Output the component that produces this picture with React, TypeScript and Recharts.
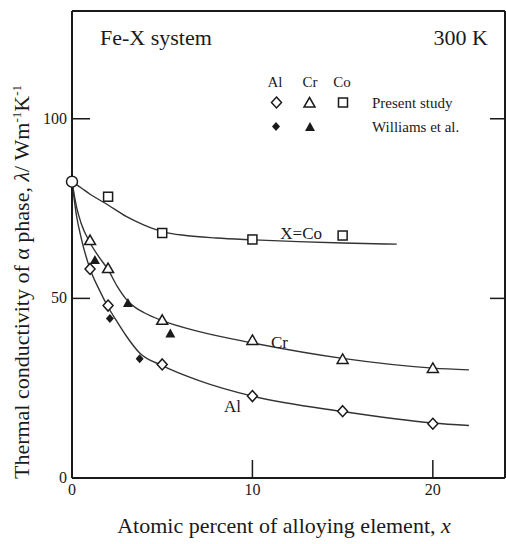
import { ComposedChart, Line, Scatter, XAxis, YAxis, ReferenceLine, ReferenceDot } from 'recharts';

const FONT = '"Liberation Serif", "Times New Roman", serif';
const INK = '#1a1a1a';
const CURVE = '#333333';

const W = 506;
const H = 544;
const PLOT_W = 433; // left axis at 72, right frame at 505

// fitted curves (x = at.% X, y = W/mK)
const coCurve = [
  { x: 0, y: 82.5 }, { x: 0.5, y: 80.8 }, { x: 1, y: 79 }, { x: 2, y: 76 },
  { x: 3, y: 72.8 }, { x: 4, y: 70.4 }, { x: 5, y: 68.6 }, { x: 6.3, y: 67.5 },
  { x: 8, y: 66.8 }, { x: 10, y: 66.3 }, { x: 15, y: 65.4 }, { x: 18, y: 65.1 },
];
const crCurve = [
  { x: 0, y: 82.5 }, { x: 0.25, y: 75.5 }, { x: 0.5, y: 71 }, { x: 1, y: 65.5 },
  { x: 1.5, y: 61.5 }, { x: 2, y: 58 }, { x: 2.5, y: 53.4 }, { x: 3, y: 49.8 },
  { x: 3.5, y: 47.5 }, { x: 4, y: 46 }, { x: 5, y: 43.8 }, { x: 7, y: 40.8 },
  { x: 10, y: 37.6 }, { x: 15, y: 33.3 }, { x: 20, y: 30.6 }, { x: 22, y: 30.1 },
];
const alCurve = [
  { x: 0, y: 82.5 }, { x: 0.25, y: 73 }, { x: 0.5, y: 67 }, { x: 1, y: 58.2 },
  { x: 1.5, y: 52.5 }, { x: 2, y: 47.6 }, { x: 2.5, y: 43.5 }, { x: 3, y: 39.6 },
  { x: 3.75, y: 34.8 }, { x: 5, y: 31.3 }, { x: 7, y: 27.2 }, { x: 10, y: 22.8 },
  { x: 15, y: 18.5 }, { x: 20, y: 15.3 }, { x: 22, y: 14.6 },
];

// measured points
const pureFe = [{ x: 0, y: 82.5 }];
const alPresent = [
  { x: 1, y: 58.2 }, { x: 2, y: 48 }, { x: 5, y: 31.6 },
  { x: 10, y: 22.8 }, { x: 15, y: 18.6 }, { x: 20, y: 15.1 },
];
const crPresent = [
  { x: 1, y: 66.1 }, { x: 2, y: 58.3 }, { x: 5, y: 43.9 },
  { x: 10, y: 38.3 }, { x: 15, y: 33 }, { x: 20, y: 30.5 },
];
const coPresent = [
  { x: 2, y: 78.3 }, { x: 5, y: 68.2 }, { x: 10, y: 66.4 }, { x: 15, y: 67.5 },
];
const alWilliams = [{ x: 2.1, y: 44.4 }, { x: 3.75, y: 33.2 }];
const crWilliams = [{ x: 1.27, y: 60.7 }, { x: 3.1, y: 48.7 }, { x: 5.45, y: 40.2 }];

const xTicks = [0, 10, 20];
const yTicks = [0, 50, 100];

const curveLabels = [
  { x: 12.7, y: 68.3, text: 'X=Co' },
  { x: 11.5, y: 38, text: 'Cr' },
  { x: 8.9, y: 20.1, text: 'Al' },
];

const openDiamond = (p: any) => (
  <polygon
    points={`${p.cx},${p.cy - 5.5} ${p.cx + 5},${p.cy} ${p.cx},${p.cy + 5.5} ${p.cx - 5},${p.cy}`}
    fill="#fff" stroke={INK} strokeWidth={1.5}
  />
);
const openTriangle = (p: any) => (
  <polygon
    points={`${p.cx},${p.cy - 5.5} ${p.cx + 5.5},${p.cy + 4} ${p.cx - 5.5},${p.cy + 4}`}
    fill="#fff" stroke={INK} strokeWidth={1.5}
  />
);
const openSquare = (p: any) => (
  <rect x={p.cx - 4.5} y={p.cy - 4.5} width={9} height={9} fill="#fff" stroke={INK} strokeWidth={1.5} />
);
const openCircle = (p: any) => (
  <circle cx={p.cx} cy={p.cy} r={5.5} fill="#fff" stroke={INK} strokeWidth={1.5} />
);
const filledDiamond = (p: any) => (
  <polygon
    points={`${p.cx},${p.cy - 4.5} ${p.cx + 4},${p.cy} ${p.cx},${p.cy + 4.5} ${p.cx - 4},${p.cy}`}
    fill={INK}
  />
);
const filledTriangle = (p: any) => (
  <polygon points={`${p.cx},${p.cy - 5} ${p.cx + 5},${p.cy + 4} ${p.cx - 5},${p.cy + 4}`} fill={INK} />
);

const YTick = ({ x, y, payload }: any) => (
  <g>
    <text x={x - 5} y={y + 5} textAnchor="end" fontSize={16} fontFamily={FONT} fill={INK}>
      {payload.value}
    </text>
    {payload.value !== 0 && (
      <>
        <line x1={x} x2={x + 18} y1={y} y2={y} stroke={INK} strokeWidth={1.5} />
        <line x1={x + PLOT_W - 15} x2={x + PLOT_W} y1={y} y2={y} stroke={INK} strokeWidth={1.5} />
      </>
    )}
  </g>
);

const XTick = ({ x, y, payload }: any) => (
  <g>
    <text x={x} y={y + 17} textAnchor="middle" fontSize={16} fontFamily={FONT} fill={INK}>
      {payload.value}
    </text>
    {payload.value !== 0 && <line x1={x} x2={x} y1={y} y2={y - 18} stroke={INK} strokeWidth={1.5} />}
  </g>
);

export default function App() {
  return (
    <div style={{ position: 'absolute', left: 0, top: 0, width: W, height: H, background: '#fff' }}>
      <ComposedChart width={W} height={H} margin={{ top: 11, right: 1, bottom: 36, left: 12 }}>
        <XAxis
          dataKey="x" type="number" domain={[0, 24]} ticks={xTicks} height={30}
          axisLine={{ stroke: INK, strokeWidth: 2 }} tickLine={false} tickSize={0} tickMargin={0}
          tick={<XTick />}
        />
        <YAxis
          dataKey="y" type="number" domain={[0, 130]} ticks={yTicks} width={60}
          axisLine={{ stroke: INK, strokeWidth: 2 }} tickLine={false} tickSize={0} tickMargin={0}
          tick={<YTick />}
        />
        <ReferenceLine y={130} stroke={INK} strokeWidth={2} />
        <ReferenceLine x={24} stroke={INK} strokeWidth={2} />

        <Line data={coCurve} dataKey="y" type="monotone" stroke={CURVE} strokeWidth={1.4} dot={false} isAnimationActive={false} />
        <Line data={crCurve} dataKey="y" type="monotone" stroke={CURVE} strokeWidth={1.4} dot={false} isAnimationActive={false} />
        <Line data={alCurve} dataKey="y" type="monotone" stroke={CURVE} strokeWidth={1.4} dot={false} isAnimationActive={false} />

        <Scatter data={coPresent} dataKey="y" shape={openSquare} isAnimationActive={false} />
        <Scatter data={crPresent} dataKey="y" shape={openTriangle} isAnimationActive={false} />
        <Scatter data={alPresent} dataKey="y" shape={openDiamond} isAnimationActive={false} />
        <Scatter data={crWilliams} dataKey="y" shape={filledTriangle} isAnimationActive={false} />
        <Scatter data={alWilliams} dataKey="y" shape={filledDiamond} isAnimationActive={false} />
        <Scatter data={pureFe} dataKey="y" shape={openCircle} isAnimationActive={false} />

        {curveLabels.map((c) => (
          <ReferenceDot
            key={c.text} x={c.x} y={c.y} r={0} fill="none" stroke="none"
            label={{ value: c.text, position: 'center', fill: INK, fontSize: 17, fontFamily: FONT }}
          />
        ))}
      </ComposedChart>

      <svg width={W} height={H} style={{ position: 'absolute', left: 0, top: 0, pointerEvents: 'none' }}>
        <g fontFamily={FONT} fill={INK}>
          <text x={100} y={45} fontSize={22}>Fe-X system</text>
          <text x={488} y={45} fontSize={22} textAnchor="end">300 K</text>

          <text x={275} y={87} fontSize={15} textAnchor="middle">Al</text>
          <text x={310} y={87} fontSize={15} textAnchor="middle">Cr</text>
          <text x={342} y={87} fontSize={15} textAnchor="middle">Co</text>
          {openDiamond({ cx: 276.5, cy: 102.5 })}
          {openTriangle({ cx: 309.5, cy: 103 })}
          {openSquare({ cx: 343, cy: 102.5 })}
          {filledDiamond({ cx: 276, cy: 126.5 })}
          {filledTriangle({ cx: 310, cy: 127 })}
          <text x={372} y={108} fontSize={15}>Present study</text>
          <text x={372} y={132} fontSize={15}>Williams et al.</text>

          <text x={284} y={533} fontSize={22} textAnchor="middle">
            Atomic percent of alloying element, <tspan fontStyle="italic">x</tspan>
          </text>
          <text transform="rotate(-90)" x={-282} y={29} fontSize={22} textAnchor="middle">
            Thermal conductivity of α phase, <tspan fontStyle="italic">λ</tspan>/ Wm
            <tspan fontSize={13} dy={-8}>-1</tspan>
            <tspan dy={8}>K</tspan>
            <tspan fontSize={13} dy={-8}>-1</tspan>
          </text>
        </g>
      </svg>
    </div>
  );
}
